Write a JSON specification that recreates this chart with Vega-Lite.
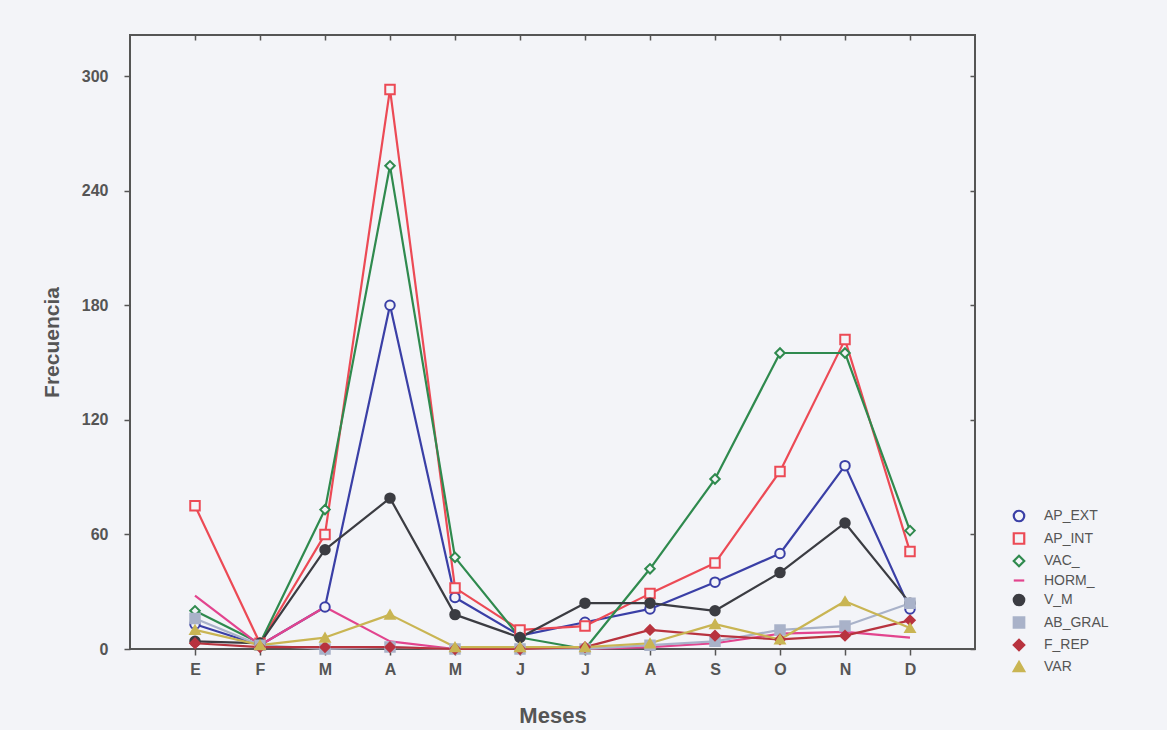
{
  "$schema": "https://vega.github.io/schema/vega-lite/v6.json",
  "width": 845,
  "height": 614,
  "autosize": "none",
  "padding": {"left": 130, "top": 35, "right": 192, "bottom": 81},
  "background": "#f3f4f8",
  "config": {
    "view": {"stroke": "#555", "strokeWidth": 2},
    "font": "Liberation Sans",
    "axis": {"grid": false, "domain": false, "tickColor": "#555", "tickWidth": 1.5, "labelColor": "#555", "titleColor": "#555"}
  },
  "data": {"values": [
    {"mes":"Ene","serie":"AP_EXT","valor":13},{"mes":"Feb","serie":"AP_EXT","valor":2},{"mes":"Mar","serie":"AP_EXT","valor":22},{"mes":"Abr","serie":"AP_EXT","valor":180},{"mes":"May","serie":"AP_EXT","valor":27},{"mes":"Jun","serie":"AP_EXT","valor":7},{"mes":"Jul","serie":"AP_EXT","valor":14},{"mes":"Ago","serie":"AP_EXT","valor":21},{"mes":"Sep","serie":"AP_EXT","valor":35},{"mes":"Oct","serie":"AP_EXT","valor":50},{"mes":"Nov","serie":"AP_EXT","valor":96},{"mes":"Dic","serie":"AP_EXT","valor":21},
    {"mes":"Ene","serie":"AP_INT","valor":75},{"mes":"Feb","serie":"AP_INT","valor":3},{"mes":"Mar","serie":"AP_INT","valor":60},{"mes":"Abr","serie":"AP_INT","valor":293},{"mes":"May","serie":"AP_INT","valor":32},{"mes":"Jun","serie":"AP_INT","valor":10},{"mes":"Jul","serie":"AP_INT","valor":12},{"mes":"Ago","serie":"AP_INT","valor":29},{"mes":"Sep","serie":"AP_INT","valor":45},{"mes":"Oct","serie":"AP_INT","valor":93},{"mes":"Nov","serie":"AP_INT","valor":162},{"mes":"Dic","serie":"AP_INT","valor":51},
    {"mes":"Ene","serie":"VAC_","valor":20},{"mes":"Feb","serie":"VAC_","valor":3},{"mes":"Mar","serie":"VAC_","valor":73},{"mes":"Abr","serie":"VAC_","valor":253},{"mes":"May","serie":"VAC_","valor":48},{"mes":"Jun","serie":"VAC_","valor":6},{"mes":"Jul","serie":"VAC_","valor":0},{"mes":"Ago","serie":"VAC_","valor":42},{"mes":"Sep","serie":"VAC_","valor":89},{"mes":"Oct","serie":"VAC_","valor":155},{"mes":"Nov","serie":"VAC_","valor":155},{"mes":"Dic","serie":"VAC_","valor":62},
    {"mes":"Ene","serie":"HORM_","valor":28},{"mes":"Feb","serie":"HORM_","valor":2},{"mes":"Mar","serie":"HORM_","valor":22},{"mes":"Abr","serie":"HORM_","valor":4},{"mes":"May","serie":"HORM_","valor":0},{"mes":"Jun","serie":"HORM_","valor":0},{"mes":"Jul","serie":"HORM_","valor":0},{"mes":"Ago","serie":"HORM_","valor":1},{"mes":"Sep","serie":"HORM_","valor":3},{"mes":"Oct","serie":"HORM_","valor":8},{"mes":"Nov","serie":"HORM_","valor":9},{"mes":"Dic","serie":"HORM_","valor":6},
    {"mes":"Ene","serie":"V_M","valor":4},{"mes":"Feb","serie":"V_M","valor":3},{"mes":"Mar","serie":"V_M","valor":52},{"mes":"Abr","serie":"V_M","valor":79},{"mes":"May","serie":"V_M","valor":18},{"mes":"Jun","serie":"V_M","valor":6},{"mes":"Jul","serie":"V_M","valor":24},{"mes":"Ago","serie":"V_M","valor":24},{"mes":"Sep","serie":"V_M","valor":20},{"mes":"Oct","serie":"V_M","valor":40},{"mes":"Nov","serie":"V_M","valor":66},{"mes":"Dic","serie":"V_M","valor":24},
    {"mes":"Ene","serie":"AB_GRAL","valor":16},{"mes":"Feb","serie":"AB_GRAL","valor":2},{"mes":"Mar","serie":"AB_GRAL","valor":0},{"mes":"Abr","serie":"AB_GRAL","valor":1},{"mes":"May","serie":"AB_GRAL","valor":0},{"mes":"Jun","serie":"AB_GRAL","valor":0},{"mes":"Jul","serie":"AB_GRAL","valor":0},{"mes":"Ago","serie":"AB_GRAL","valor":2},{"mes":"Sep","serie":"AB_GRAL","valor":4},{"mes":"Oct","serie":"AB_GRAL","valor":10},{"mes":"Nov","serie":"AB_GRAL","valor":12},{"mes":"Dic","serie":"AB_GRAL","valor":24},
    {"mes":"Ene","serie":"F_REP","valor":3},{"mes":"Feb","serie":"F_REP","valor":1},{"mes":"Mar","serie":"F_REP","valor":1},{"mes":"Abr","serie":"F_REP","valor":1},{"mes":"May","serie":"F_REP","valor":0},{"mes":"Jun","serie":"F_REP","valor":0},{"mes":"Jul","serie":"F_REP","valor":1},{"mes":"Ago","serie":"F_REP","valor":10},{"mes":"Sep","serie":"F_REP","valor":7},{"mes":"Oct","serie":"F_REP","valor":5},{"mes":"Nov","serie":"F_REP","valor":7},{"mes":"Dic","serie":"F_REP","valor":15},
    {"mes":"Ene","serie":"VAR","valor":10},{"mes":"Feb","serie":"VAR","valor":2},{"mes":"Mar","serie":"VAR","valor":6},{"mes":"Abr","serie":"VAR","valor":18},{"mes":"May","serie":"VAR","valor":1},{"mes":"Jun","serie":"VAR","valor":1},{"mes":"Jul","serie":"VAR","valor":1},{"mes":"Ago","serie":"VAR","valor":3},{"mes":"Sep","serie":"VAR","valor":13},{"mes":"Oct","serie":"VAR","valor":5},{"mes":"Nov","serie":"VAR","valor":25},{"mes":"Dic","serie":"VAR","valor":11}
  ]},
  "resolve": {"axis": {"x": "independent", "y": "independent"}},
  "layer": [
    {
      "mark": {"type": "line", "strokeJoin": "round"},
      "encoding": {
        "x": {"field": "mes", "type": "ordinal", "sort": ["Ene","Feb","Mar","Abr","May","Jun","Jul","Ago","Sep","Oct","Nov","Dic"],
              "scale": {"type": "point", "padding": 1},
              "axis": {"title": "Meses", "labelExpr": "slice(datum.label,0,1)", "labelAngle": 0, "labelFontSize": 16, "labelFontWeight": "bold", "tickSize": 6, "labelPadding": 6, "titleFontSize": 22, "titleFontWeight": "bold", "titleY": 56}},
        "y": {"field": "valor", "type": "quantitative",
              "scale": {"domain": [0, 321.5], "nice": false},
              "axis": {"title": "Frecuencia", "values": [0,60,120,180,240,300], "labelFontSize": 16, "labelFontWeight": "bold", "tickSize": 6, "labelPadding": 16, "titleFontSize": 21, "titleFontWeight": "bold", "titleX": -68, "titleY": 307}},
        "color": {"field": "serie", "type": "nominal",
                  "scale": {"domain": ["AP_EXT","AP_INT","VAC_","HORM_","V_M","AB_GRAL","F_REP","VAR"],
                            "range": ["#3a3fa6","#ec4a55","#2f8a4e","#e2448e","#3b3c42","#a9b2c9","#b8333f","#c9b553"]},
                  "legend": {"title": null, "orient": "none", "legendX": 882, "legendY": 474, "labelFontSize": 14, "labelColor": "#555", "rowPadding": 2.5, "symbolSize": 110, "symbolStrokeWidth": 2, "labelOffset": 18}},
        "strokeWidth": {"field": "serie", "type": "nominal",
                        "scale": {"domain": ["AP_EXT","AP_INT","VAC_","HORM_","V_M","AB_GRAL","F_REP","VAR"], "range": [2.2,2.2,1.3,2.2,2.6,2.2,2.2,2.2]},
                        "legend": null}
      }
    },
    {
      "transform": [{"filter": "datum.serie !== 'HORM_'"}],
      "mark": {"type": "point", "filled": false, "strokeWidth": 2, "opacity": 1, "size": 90},
      "encoding": {
        "x": {"field": "mes", "type": "ordinal", "sort": ["Ene","Feb","Mar","Abr","May","Jun","Jul","Ago","Sep","Oct","Nov","Dic"], "axis": null},
        "y": {"field": "valor", "type": "quantitative", "axis": null},
        "color": {"field": "serie", "type": "nominal"},
        "shape": {"field": "serie", "type": "nominal",
                  "scale": {"domain": ["AP_EXT","AP_INT","VAC_","HORM_","V_M","AB_GRAL","F_REP","VAR"],
                            "range": ["circle","square","diamond","stroke","circle","square","diamond","triangle-up"]}},
        "fill": {"field": "serie", "type": "nominal",
                 "scale": {"domain": ["AP_EXT","AP_INT","VAC_","HORM_","V_M","AB_GRAL","F_REP","VAR"],
                           "range": ["#f3f4f8","#f3f4f8","#f3f4f8","#e2448e","#3b3c42","#a9b2c9","#b8333f","#c9b553"]}}
      }
    },
    {
      "mark": {"type": "line", "opacity": 0},
      "encoding": {
        "x": {"field": "mes", "type": "ordinal", "sort": ["Ene","Feb","Mar","Abr","May","Jun","Jul","Ago","Sep","Oct","Nov","Dic"],
              "axis": {"orient": "top", "labels": false, "title": null, "tickSize": -5}},
        "y": {"field": "valor", "type": "quantitative",
              "axis": {"orient": "right", "labels": false, "title": null, "tickSize": -5, "values": [0,60,120,180,240,300]}},
        "detail": {"field": "serie"}
      }
    }
  ]
}
